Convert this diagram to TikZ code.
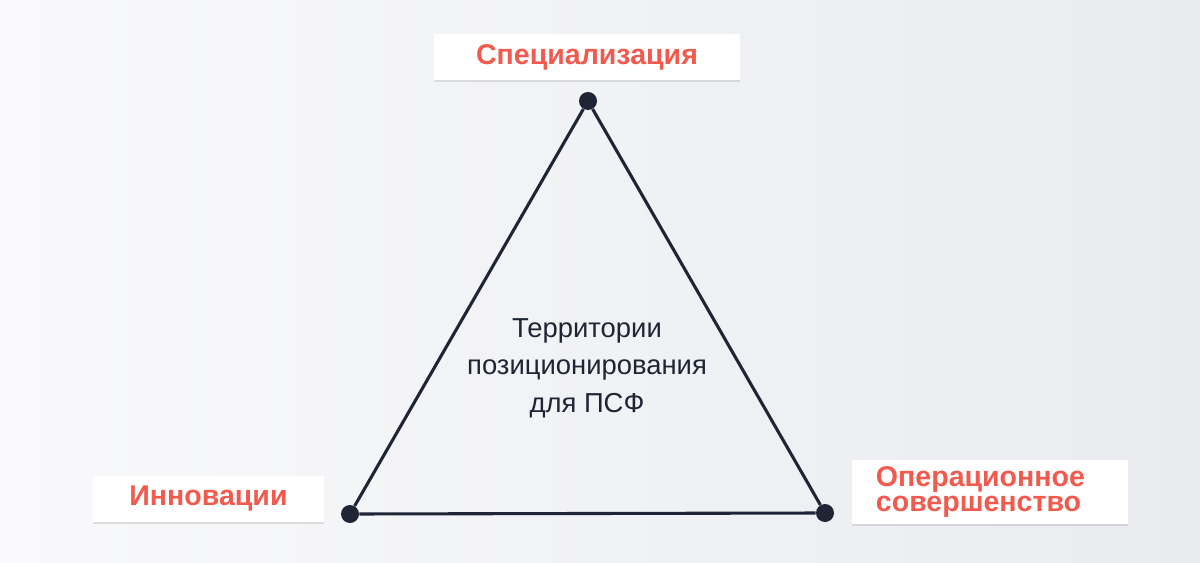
\documentclass[tikz,border=0pt]{standalone}
\usepackage{fontspec}
\setmainfont{Liberation Sans}
\usetikzlibrary{shadows}
\definecolor{labelred}{HTML}{F25A4E}
\definecolor{edgeink}{HTML}{1F2535}
\definecolor{bgleft}{HTML}{F9F9FB}
\definecolor{bgright}{HTML}{E9EBEF}
\begin{document}
\begin{tikzpicture}[x=0.025cm,y=-0.025cm,
        corner/.style={circle,fill=edgeink,inner sep=0pt,minimum size=12.8pt},
        edge/.style={draw=edgeink,line width=2.2pt},
        labelbox/.style={fill=white,inner sep=0pt,text=labelred,
            drop shadow={shadow xshift=0pt,shadow yshift=-1.5pt,opacity=0.10,fill=black},
            font=\bfseries\fontsize{20.3}{18.4}\selectfont}]
                % background
                \fill[left color=bgleft,right color=bgright] (0,0) rectangle (1200,563);
                
                % corners of the triangle
                \node[corner] (ctop) at (588,101) {};
                \node[corner] (cleft) at (350,514) {};
                \node[corner] (cright) at (825,513) {};
                \draw[edge] (ctop) -- (cleft);
                \draw[edge] (cleft) -- (cright);
                \draw[edge] (cright) -- (ctop);
                
                % labels
                \node[labelbox,minimum width=7.65cm,minimum height=1.15cm] (spec) at (587,57) {Специализация};
                \node[labelbox,minimum width=5.775cm,minimum height=1.15cm] (innov) at (208.5,499) {Инновации};
                \node[labelbox,minimum width=6.9cm,minimum height=1.575cm,inner xsep=0.6cm,text width=5.7cm,align=left] (oper) at (990,492) {Операционное\\совершенство};
                
                \node[text=edgeink,align=center,font=\fontsize{19.5}{26.6}\selectfont] (territ) at (587,368) {Территории\\позиционирования\\для ПСФ};
\end{tikzpicture}
\end{document}
